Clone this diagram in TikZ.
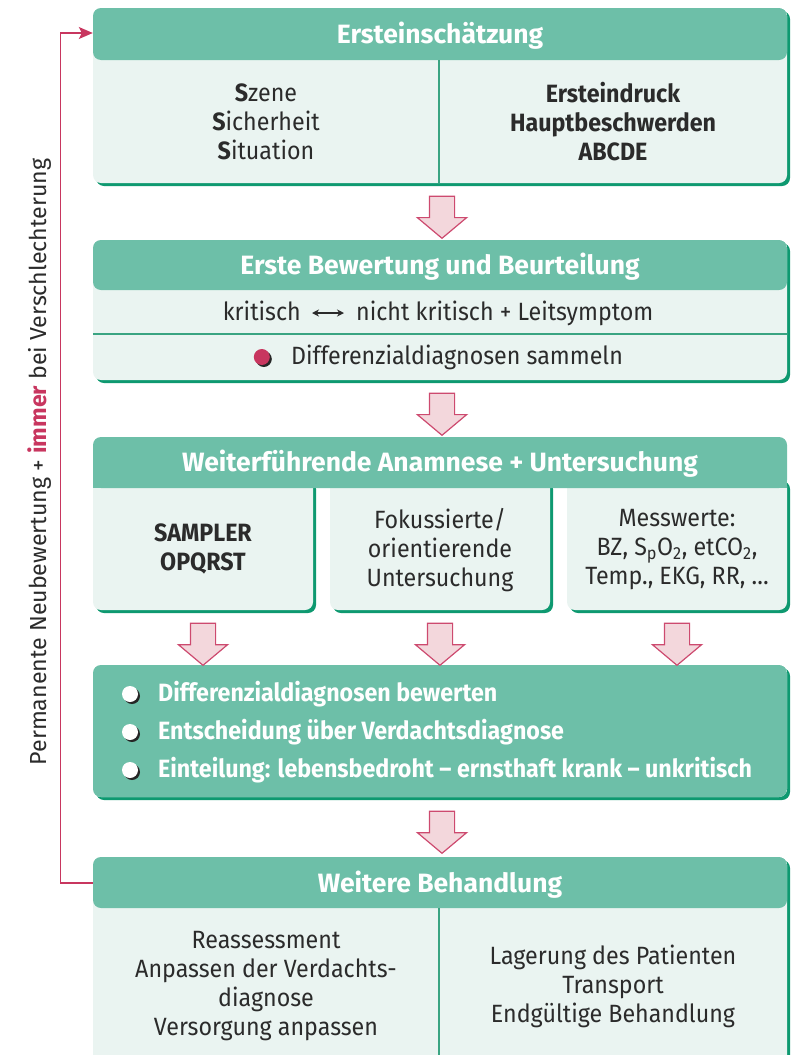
\documentclass[tikz,border=0pt]{standalone}
\usepackage{fontspec}
\setmainfont{Fira Sans}[FakeStretch=0.93]
\newfontfamily\headfam{Fira Sans}
\usetikzlibrary{positioning,calc,shapes.arrows,shadows,arrows.meta}
\definecolor{headgreen}{HTML}{6DBFA8}
\definecolor{bodygreen}{HTML}{EAF4F1}
\definecolor{shadegreen}{HTML}{0E9970}
\definecolor{linegreen}{HTML}{3AA482}
\definecolor{inktext}{HTML}{2B2B2B}
\definecolor{crimson}{HTML}{C8365F}
\definecolor{arrowpink}{HTML}{F3D7DC}
\newcommand{\bodyfont}{\fontsize{25}{29}\selectfont}
\newcommand{\headfont}{\headfam\fontsize{26.5}{30}\selectfont\bfseries}

\begin{document}
\begin{tikzpicture}[x=1pt, y=-1pt,
    every node/.style={inner sep=0pt, text=inktext, font=\bodyfont},
    boxshadow/.style={drop shadow={shadow xshift=3pt, shadow yshift=-3pt, fill=shadegreen, opacity=1}},
    panel/.style={fill=bodygreen, rounded corners=8pt, minimum width=694pt, boxshadow,
      path picture={\fill[headgreen] (path picture bounding box.north west)
        rectangle ([yshift=-#1]path picture bounding box.north east);}},
    subbox/.style={fill=bodygreen, rounded corners=8pt, minimum width=220pt,
      minimum height=132pt, boxshadow},
    headtext/.style={text=white, font=\headfont},
    divider/.style={draw=linegreen, line width=1.4pt},
    flow/.style={single arrow, rotate=-90, fill=arrowpink, draw=crimson!90, line width=1.2pt,
      inner xsep=0pt, inner ysep=12pt, minimum height=42pt, minimum width=48pt,
      single arrow head extend=12pt, single arrow tip angle=100},
    ball/.style={circle, fill=#1, minimum size=16pt,
      drop shadow={shadow xshift=2pt, shadow yshift=-2pt, fill=black!85, opacity=1}},
    whitetext/.style={text=white, font=\bodyfont\bfseries, anchor=west},
    twoway/.style={draw=inktext, line width=1.6pt, {Stealth[length=7pt,width=7pt]}-{Stealth[length=7pt,width=7pt]},
      shorten <=11pt, shorten >=12pt},
    feedback/.style={draw=crimson, line width=1.2pt, -{Stealth[length=14pt,width=12pt,inset=3pt]}}
  ]
  \useasboundingbox (0,0) rectangle (804,1055);
  \clip (0,0) rectangle (804,1055);

  % Ersteinschaetzung
  \node[panel=52pt, minimum height=175pt] (p1) at (440,95.5) {};
  \node[headtext] (t1) at (440,36) {Ersteinschätzung};
  \draw[divider] ($(p1.north)+(-1,52)$) -- ($(p1.south)+(-1,0)$);
  \node[align=center] (s1) at (266,122) {\textbf{S}zene\\\textbf{S}icherheit\\\textbf{S}ituation};
  \node[align=center, font=\bodyfont\bfseries] (e1) at (613,122) {Ersteindruck\\Hauptbeschwerden\\ABCDE};

  % Erste Bewertung
  \node[panel=50pt, minimum height=140pt] (p2) at (440,310) {};
  \node[headtext] (t2) at (440,267) {Erste Bewertung und Beurteilung};
  \draw[divider] ($(p2.west)+(0,24)$) -- ($(p2.east)+(0,24)$);
  \node[anchor=base east] (k2a) at (301,320) {kritisch};
  \node[anchor=base west] (k2b) at (356,320) {nicht kritisch + Leitsymptom};
  \draw[twoway] ([yshift=7pt]k2a.base east) -- ([yshift=7pt]k2b.base west);
  \node[anchor=west] (d2) at (291,357) {Differenzialdiagnosen sammeln};
  \node[ball=crimson, left=21pt of d2] (b2) {};

  % Weiterfuehrende Anamnese
  \node[subbox] (u1) at (203,544) {};
  \node[subbox] (u2) at (440,544) {};
  \node[subbox] (u3) at (677,544) {};
  \node[fill=headgreen, rounded corners=8pt, minimum width=694pt, minimum height=51pt] (h3) at (440,462.5) {};
  \fill[headgreen] (h3.west) rectangle (h3.south east);
  \node[headtext] (t3) at (440,464) {Weiterführende Anamnese + Untersuchung};
  \node[align=center, font=\bodyfont\bfseries] (x1) at (203,549) {SAMPLER\\OPQRST};
  \node[align=center] (x2) at (440,550) {Fokussierte/\\orientierende\\Untersuchung};
  \node[align=center] (x3) at (677,550) {Messwerte:\\BZ, S\textsubscript{p}O\textsubscript{2}, etCO\textsubscript{2},\\Temp., EKG, RR, \dots};

  % Bewertung
  \node[panel=132pt, minimum height=132pt] (p4) at (440,731) {};
  \node[ball=white] (b41) at (130,694) {};
  \node[ball=white] (b42) at (130,732) {};
  \node[ball=white] (b43) at (130,770) {};
  \node[whitetext] (l41) at (158,694) {Differenzialdiagnosen bewerten};
  \node[whitetext] (l42) at (158,732) {Entscheidung über Verdachtsdiagnose};
  \node[whitetext] (l43) at (158,770) {Einteilung: lebensbedroht -- ernsthaft krank -- unkritisch};

  % Weitere Behandlung
  \node[panel=51pt, minimum height=230pt] (p5) at (440,972) {};
  \node[headtext] (t5) at (440,885) {Weitere Behandlung};
  \draw[divider] ($(p5.north)+(-1,51)$) -- ($(p5.south)+(-1,0)$);
  \node[align=center] (r5) at (266,986) {Reassessment\\Anpassen der Verdachts-\\diagnose\\Versorgung anpassen};
  \node[align=center] (w5) at (613,986) {Lagerung des Patienten\\Transport\\Endgültige Behandlung};

  % Pfeile
  \node[flow] (a1) at (442,212) {};
  \node[flow] (a2) at (442,409) {};
  \node[flow] (a31) at (203,639) {};
  \node[flow] (a32) at (440,639) {};
  \node[flow] (a33) at (677,639) {};
  \node[flow] (a4) at (442,827) {};

  % Rueckfuehrung
  \draw[feedback] (p5.north west |- 0,883) -- ++(-32,0) |- (p1.north west |- 0,33);
  \node[rotate=90, font=\headfam\fontsize{23.2}{27}\selectfont] (note) at (40,462)
    {Permanente Neubewertung + \textcolor{crimson}{\textbf{immer}} bei Verschlechterung};
\end{tikzpicture}
\end{document}
